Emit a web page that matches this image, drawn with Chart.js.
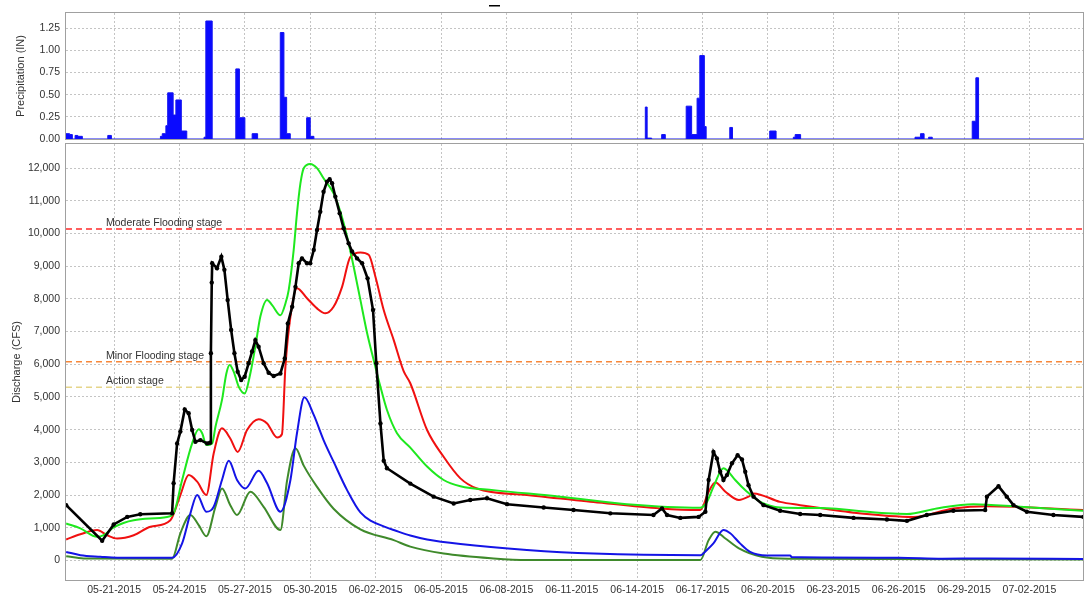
<!DOCTYPE html>
<html>
<head>
<meta charset="utf-8">
<script src="https://cdn.jsdelivr.net/npm/chart.js@4.4.0/dist/chart.umd.min.js"></script>
<style>
  body { margin: 0; background: #fff; }
  .box { position: absolute; left: 0; width: 1084px; }
  #top { top: 0; height: 142px; }
  #bottom { top: 140px; height: 457px; }
</style>
</head>
<body>
<div class="box" id="top"><canvas id="precip" width="1084" height="142"></canvas></div>
<div class="box" id="bottom"><canvas id="discharge" width="1084" height="457"></canvas></div>
<script>
// x axis tick labels (every 3 days)
var tickLabels = ['05-21-2015', '05-24-2015', '05-27-2015', '05-30-2015', '06-02-2015', '06-05-2015',
    '06-08-2015', '06-11-2015', '06-14-2015', '06-17-2015', '06-20-2015', '06-23-2015',
    '06-26-2015', '06-29-2015', '07-02-2015'];
var precipTicks = [0, 0.25, 0.5, 0.75, 1.0, 1.25];
var dischargeTicks = [0, 1000, 2000, 3000, 4000, 5000, 6000, 7000, 8000, 9000, 10000, 11000, 12000];

// hourly precipitation (IN), value holds from the given time until the next one
var precip = [
    ['05-18 19:00', 0.06], ['05-18 23:00', 0.05], ['05-19 02:00', 0], ['05-19 05:00', 0.04],
    ['05-19 08:00', 0.03], ['05-19 13:00', 0], ['05-20 17:00', 0.04], ['05-20 21:00', 0],
    ['05-23 03:00', 0.03], ['05-23 05:00', 0.06], ['05-23 09:00', 0.15], ['05-23 11:00', 0.52],
    ['05-23 17:00', 0.27], ['05-23 20:00', 0.44], ['05-24 02:00', 0.09], ['05-24 08:00', 0],
    ['05-25 03:00', 0.02], ['05-25 05:00', 1.33], ['05-25 12:00', 0],
    ['05-26 14:00', 0.79], ['05-26 18:00', 0.24], ['05-27 00:00', 0],
    ['05-27 08:00', 0.06], ['05-27 14:00', 0],
    ['05-28 15:00', 1.20], ['05-28 19:00', 0.47], ['05-28 22:00', 0.06], ['05-29 02:00', 0],
    ['05-29 20:00', 0.24], ['05-30 00:00', 0.03], ['05-30 04:00', 0],
    ['06-14 09:00', 0.36], ['06-14 11:00', 0.01], ['06-14 16:00', 0],
    ['06-15 03:00', 0.05], ['06-15 07:00', 0],
    ['06-16 06:00', 0.37], ['06-16 12:00', 0.05], ['06-16 18:00', 0.46], ['06-16 21:00', 0.94],
    ['06-17 02:00', 0.14], ['06-17 04:00', 0],
    ['06-18 06:00', 0.13], ['06-18 09:00', 0],
    ['06-20 02:00', 0.09], ['06-20 09:00', 0],
    ['06-21 04:00', 0.02], ['06-21 06:00', 0.05], ['06-21 12:00', 0],
    ['06-26 18:00', 0.02], ['06-27 00:00', 0.06], ['06-27 04:00', 0], ['06-27 09:00', 0.02], ['06-27 13:00', 0],
    ['06-29 09:00', 0.20], ['06-29 13:00', 0.69], ['06-29 16:00', 0],
    ['07-04 11:00', 0]
];

// discharge series: [days after 05-21-2015 00:00, CFS]
var observed = [
    [-2.2, 1690], [-0.55, 600], [-0.02, 1100], [0.6, 1330], [1.2, 1410], [2.66, 1440], [2.73, 2360],
    [2.89, 3580], [3.04, 3940], [3.24, 4620], [3.42, 4500], [3.58, 3990], [3.73, 3630], [3.96, 3680],
    [4.27, 3580], [4.4, 3600], [4.44, 6340], [4.48, 8500], [4.5, 9090], [4.72, 8940], [4.92, 9290],
    [5.06, 8890], [5.21, 7970], [5.37, 7050], [5.52, 6340], [5.67, 5770], [5.83, 5520], [5.99, 5620],
    [6.17, 6030], [6.33, 6390], [6.48, 6740], [6.63, 6540], [6.86, 6030], [7.09, 5740], [7.32, 5640],
    [7.63, 5720], [7.83, 6180], [7.97, 7250], [8.17, 7760], [8.32, 8370], [8.47, 9090], [8.62, 9240],
    [8.85, 9090], [9.0, 9090], [9.16, 9500], [9.31, 10110], [9.46, 10670], [9.61, 11280], [9.77, 11590],
    [9.89, 11660], [10.0, 11540], [10.15, 11130], [10.35, 10620], [10.53, 10160], [10.76, 9700],
    [10.92, 9450], [11.15, 9240], [11.38, 9090], [11.63, 8630], [11.88, 7660], [12.03, 6030],
    [12.22, 4190], [12.37, 3050], [12.52, 2820], [13.59, 2350], [14.66, 1950], [15.58, 1740],
    [16.34, 1850], [17.11, 1900], [18.03, 1720], [19.71, 1620], [21.08, 1540], [22.77, 1440],
    [24.75, 1390], [25.14, 1590], [25.37, 1390], [25.98, 1300], [26.82, 1330], [27.13, 1490],
    [27.28, 2460], [27.5, 3320], [27.66, 3120], [27.81, 2710], [27.96, 2460], [28.12, 2610],
    [28.35, 2970], [28.61, 3220], [28.81, 3090], [28.96, 2710], [29.11, 2300], [29.34, 1950],
    [29.8, 1690], [30.56, 1520], [31.48, 1420], [32.4, 1390], [33.93, 1300], [35.46, 1250],
    [36.38, 1210], [37.29, 1390], [38.51, 1520], [39.97, 1540], [40.05, 1950], [40.58, 2270],
    [40.96, 1950], [41.27, 1690], [41.88, 1490], [43.1, 1390], [44.48, 1330]
];
var simGreen = [
    [-2.2, 1130], [-1.55, 980], [-0.78, 720], [-0.48, 770], [-0.02, 1010], [0.9, 1230], [2.43, 1330],
    [2.73, 1440], [3.12, 2460], [3.58, 3580], [3.88, 4010], [4.04, 3890], [4.23, 3530], [4.5, 3580],
    [4.65, 4090], [4.95, 4910], [5.15, 5720], [5.3, 5980], [5.49, 5770], [5.72, 5310], [5.99, 5110],
    [6.25, 5720], [6.48, 6540], [6.71, 7460], [7.02, 7970], [7.25, 7810], [7.63, 7500], [7.86, 7860],
    [8.01, 8270], [8.24, 9500], [8.39, 10620], [8.55, 11540], [8.7, 12000], [9.0, 12130], [9.31, 12000],
    [9.61, 11690], [10.07, 11230], [10.38, 10670], [10.69, 9900], [10.99, 8990], [11.3, 7970],
    [11.61, 6950], [11.91, 6130], [12.22, 5310], [12.52, 4600], [12.98, 3890], [13.59, 3450],
    [14.36, 2870], [15.12, 2460], [15.89, 2270], [17.41, 2150], [20.47, 1950], [23.53, 1720],
    [26.9, 1610], [27.2, 1790], [27.5, 2250], [27.96, 2820], [28.12, 2760], [28.5, 2460],
    [29.04, 2100], [29.65, 1790], [30.56, 1620], [32.4, 1600], [35.46, 1440], [36.38, 1420],
    [37.75, 1590], [39.43, 1720], [41.57, 1640], [44.48, 1520]
];
var simRed = [
    [-2.2, 640], [-1.55, 800], [-0.78, 930], [-0.32, 770], [0.14, 670], [0.9, 770], [1.67, 1030],
    [2.58, 1230], [3.04, 2000], [3.42, 2610], [3.81, 2410], [4.23, 2000], [4.57, 3280], [4.95, 4040],
    [5.33, 3730], [5.67, 3320], [6.1, 3990], [6.63, 4320], [7.02, 4190], [7.48, 3760], [7.7, 3860],
    [7.86, 5930], [8.09, 7460], [8.39, 8330], [8.85, 8020], [9.31, 7710], [9.69, 7560], [10.07, 7760],
    [10.46, 8370], [10.84, 9290], [11.3, 9420], [11.68, 9350], [11.99, 8680], [12.37, 7660],
    [12.83, 6740], [13.28, 5800], [13.59, 5420], [14.36, 3990], [15.12, 3170], [15.89, 2510],
    [16.65, 2200], [18.94, 2000], [22.0, 1790], [25.06, 1590], [26.9, 1540], [27.28, 2100],
    [27.59, 2380], [28.05, 2100], [28.67, 1850], [29.11, 1950], [29.34, 2050], [30.56, 1790],
    [31.48, 1690], [33.93, 1460], [36.68, 1330], [38.51, 1590], [40.05, 1660], [44.48, 1540]
];
var simBlue = [
    [-2.2, 260], [-1.55, 160], [-0.63, 110], [0.14, 80], [2.66, 80], [3.12, 520], [3.5, 1440],
    [3.81, 2000], [4.23, 1490], [4.57, 1640], [4.95, 2460], [5.26, 3050], [5.64, 2460], [6.02, 2200],
    [6.63, 2740], [7.02, 2360], [7.63, 1490], [8.09, 2460], [8.39, 3890], [8.73, 4990], [9.16, 4450],
    [9.61, 3680], [10.07, 3020], [10.69, 2150], [11.3, 1470], [12.52, 1000], [12.83, 930],
    [13.59, 760], [14.36, 640], [15.89, 500], [18.94, 320], [22.0, 210], [26.9, 160], [27.2, 320],
    [27.5, 520], [27.96, 930], [28.27, 830], [28.72, 520], [29.18, 260], [29.95, 150], [31.02, 150],
    [31.1, 100], [36.0, 80], [38.0, 50], [40.0, 60], [44.48, 40]
];
var simDarkGreen = [
    [-2.2, 130], [-1.4, 60], [2.66, 50], [3.04, 830], [3.5, 1390], [3.88, 1080], [4.23, 740],
    [4.65, 1640], [4.95, 2200], [5.33, 1690], [5.64, 1390], [6.25, 2100], [6.86, 1640], [7.63, 930],
    [7.94, 2460], [8.32, 3430], [8.7, 2900], [9.31, 2250], [10.07, 1580], [11.3, 950], [12.83, 620],
    [13.59, 420], [15.12, 210], [17.41, 60], [18.94, 10], [26.9, 10], [27.28, 620], [27.59, 880],
    [28.05, 670], [28.67, 370], [29.72, 110], [31.0, 50], [44.48, 30]
];

var stageNames = ['Moderate Flooding stage', 'Minor Flooding stage', 'Action stage'];
var stageValues = [10140, 6080, 5300];
var stageColors = ['#ff2a2a', '#f7883a', '#e6d58a'];

var xMinTime = '05-18 19:00';
var xMaxTime = '07-04 11:00';

var BASE = Date.UTC(2015, 4, 21);
function dayOf(s) {
    var parts = s.split(' ');
    var md = parts[0].split('-').map(Number);
    var h = parts[1] ? Number(parts[1].split(':')[0]) : 0;
    var y = md[2] || 2015;
    return (Date.UTC(y, md[0] - 1, md[1], h) - BASE) / 864e5;
}
var tickDays = tickLabels.map(function(l) { return dayOf(l); });
var xMin = dayOf(xMinTime), xMax = dayOf(xMaxTime);

var FONT = 'Liberation Sans, Arial, sans-serif';
var gridColor = '#c4c4c4';

function toXY(arr) { return arr.map(function(p) { return { x: p[0], y: p[1] }; }); }

var framePlugin = {
    id: 'frame',
    afterDraw: function(chart) {
        var a = chart.chartArea, ctx = chart.ctx;
        ctx.save();
        ctx.strokeStyle = '#a0a0a0';
        ctx.lineWidth = 1;
        ctx.strokeRect(a.left - 0.5, a.top - 0.5, a.right - a.left + 1, a.bottom - a.top + 1);
        ctx.restore();
    }
};

function xAxis(showLabels, h) {
    return {
        type: 'linear', min: xMin, max: xMax,
        afterBuildTicks: function(s) { s.ticks = tickDays.map(function(v) { return { value: v }; }); },
        afterFit: function(s) { s.height = h; s.paddingLeft = 0; s.paddingRight = 0; },
        grid: { color: gridColor, drawTicks: false },
        border: { display: false, dash: [2, 2] },
        ticks: {
            display: showLabels, autoSkip: false, maxRotation: 0, padding: 4,
            color: '#333', font: { family: FONT, size: 10.5 },
            callback: function(v) { var i = tickDays.indexOf(v); return i >= 0 ? tickLabels[i] : ''; }
        }
    };
}

function yAxis(title, ticks, fmt, titlePad) {
    return {
        afterBuildTicks: function(s) { s.ticks = ticks.map(function(v) { return { value: v }; }); },
        afterFit: function(s) { s.width = 66; s.paddingTop = 0; s.paddingBottom = 0; },
        grid: { color: gridColor, drawTicks: false },
        border: { display: false, dash: [2, 2] },
        ticks: { padding: 6, color: '#333', font: { family: FONT, size: 10.5 }, callback: fmt },
        title: { display: true, text: title, color: '#333', font: { family: FONT, size: 11 }, padding: { top: titlePad, bottom: 0 } }
    };
}

// precipitation panel
new Chart(document.getElementById('precip').getContext('2d'), {
    type: 'line',
    data: {
        datasets: [{
            data: precip.map(function(p) { return { x: dayOf(p[0]), y: p[1] }; }),
            stepped: true,
            fill: 'origin',
            borderColor: '#1414f0',
            backgroundColor: '#0a0aff',
            borderWidth: 1,
            pointRadius: 0
        }]
    },
    options: {
        responsive: false,
        animation: false,
        layout: { autoPadding: false, padding: { top: 13, right: 1, left: 0, bottom: 0 } },
        plugins: { legend: { display: false }, tooltip: { enabled: false } },
        scales: {
            x: xAxis(false, 3),
            y: Object.assign(yAxis('Precipitation (IN)', precipTicks, function(v) { return v.toFixed(2); }, 14), { min: 0, max: 1.42 })
        }
    },
    plugins: [framePlugin, {
        id: 'mark',
        afterDraw: function(chart) {
            var ctx = chart.ctx;
            ctx.save();
            ctx.fillStyle = '#000';
            ctx.fillRect(489, 5, 11, 1.5);
            ctx.restore();
        }
    }]
});

// discharge panel
var lineStyle = function(data, color) {
    return {
        data: toXY(data), borderColor: color, borderWidth: 2, pointRadius: 0,
        cubicInterpolationMode: 'monotone', fill: false
    };
};
var dsets = [
    {
        data: toXY(observed), borderColor: '#000', borderWidth: 2.6,
        pointRadius: 2.2, pointBackgroundColor: '#000', pointBorderWidth: 0, tension: 0, fill: false
    },
    lineStyle(simGreen, '#1ee81e'),
    lineStyle(simRed, '#f01010'),
    lineStyle(simBlue, '#1414e6'),
    lineStyle(simDarkGreen, '#3f8a2b')
];
stageValues.forEach(function(v, i) {
    dsets.push({
        data: [{ x: xMin, y: v }, { x: xMax, y: v }], borderColor: stageColors[i],
        borderWidth: 1.5, borderDash: [6, 4], pointRadius: 0, fill: false
    });
});

new Chart(document.getElementById('discharge').getContext('2d'), {
    type: 'line',
    data: { datasets: dsets },
    options: {
        responsive: false,
        animation: false,
        layout: { autoPadding: false, padding: { top: 4, right: 1, left: 0, bottom: 0 } },
        plugins: { legend: { display: false }, tooltip: { enabled: false } },
        scales: {
            x: xAxis(true, 17),
            y: Object.assign(yAxis('Discharge (CFS)', dischargeTicks, function(v) { return v.toLocaleString('en-US'); }, 10), { min: -600, max: 12740 })
        }
    },
    plugins: [framePlugin, {
        id: 'stageLabels',
        afterDatasetsDraw: function(chart) {
            var ctx = chart.ctx, y = chart.scales.y, a = chart.chartArea;
            ctx.save();
            ctx.fillStyle = '#333';
            ctx.font = '10.5px ' + FONT;
            ctx.textBaseline = 'alphabetic';
            stageNames.forEach(function(n, i) {
                ctx.fillText(n, a.left + 40, y.getPixelForValue(stageValues[i]) - 3);
            });
            ctx.restore();
        }
    }]
});
</script>
</body>
</html>
